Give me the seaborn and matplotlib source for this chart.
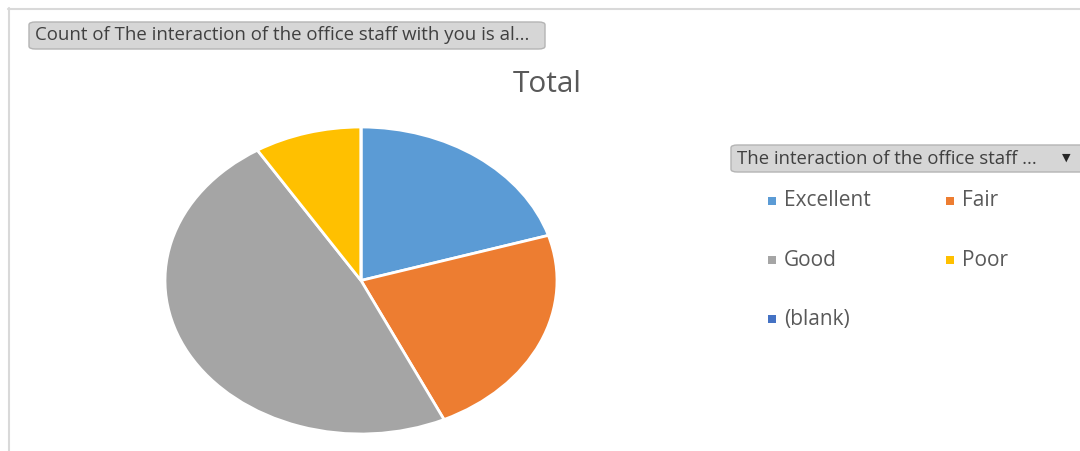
import matplotlib
matplotlib.use("Agg")
import matplotlib.pyplot as plt
from matplotlib.patches import FancyBboxPatch, Rectangle
import seaborn as sns

# data
categories = ["Excellent", "Fair", "Good", "Poor", "(blank)"]
counts = [16, 18, 38, 7, 0]
colors = ["#5B9BD5", "#ED7D31", "#A5A5A5", "#FFC000", "#4472C4"]
title = "Total"
field_button = "Count of The interaction of the office staff with you is al..."
legend_button = "The interaction of the office staff ..."

sns.set_theme(style="white")
plt.rcParams["font.family"] = ["Open Sans", "DejaVu Sans"]

W, H = 1080, 451
fig = plt.figure(figsize=(W / 100, H / 100), dpi=100)
fig.patch.set_facecolor("white")


def fx(x):
    return x / W


def fy(y):
    return 1 - y / H


# chart frame (top and left edges visible)
fig.add_artist(plt.Line2D([fx(8), fx(1080)], [fy(8.5), fy(8.5)], color="#d9d9d9", lw=1.5))
fig.add_artist(plt.Line2D([fx(8.5), fx(8.5)], [fy(8), fy(451)], color="#d9d9d9", lw=1.5))

# pie, stretched to an ellipse like the original
ax = fig.add_axes([fx(165), fy(434), (557 - 165) / W, (434 - 127) / H])
ax.pie(counts, colors=colors, startangle=90, counterclock=False,
       wedgeprops=dict(edgecolor="white", linewidth=2))
ax.set_aspect("auto")
ax.set_xlim(-1.0, 1.0)
ax.set_ylim(-1.0, 1.0)
ax.axis("off")

fig.text(fx(547), fy(84), title, ha="center", va="center", fontsize=21.5, color="#595959")


def button(x0, y0, x1, y1, text, fs):
    box = FancyBboxPatch((fx(x0), fy(y1)), fx(x1) - fx(x0), fy(y0) - fy(y1),
                         boxstyle="round,pad=0,rounding_size=0.006",
                         transform=fig.transFigure, facecolor="#d6d6d6",
                         edgecolor="#b4b4b4", linewidth=1)
    fig.add_artist(box)
    fig.text(fx(x0 + 6), fy((y0 + y1) / 2), text, ha="left", va="center",
             fontsize=fs, color="#404040")


button(29, 22, 545, 49, field_button, 13.4)
button(731, 145, 1090, 172, legend_button, 13.3)
fig.text(fx(1066), fy(158), "\u25BC", ha="center", va="center", fontsize=8, color="#262626")

# legend, two columns
col_x = [772, 950]
row_y = [201, 260, 319]
for i, (cat, col) in enumerate(zip(categories, colors)):
    x = col_x[i % 2]
    y = row_y[i // 2]
    fig.add_artist(Rectangle((fx(x - 4), fy(y + 4)), 8 / W, 8 / H,
                             transform=fig.transFigure, facecolor=col, edgecolor="none"))
    fig.text(fx(x + 12), fy(y), cat, ha="left", va="center", fontsize=15, color="#595959")

fig.savefig("out.png", dpi=100)
